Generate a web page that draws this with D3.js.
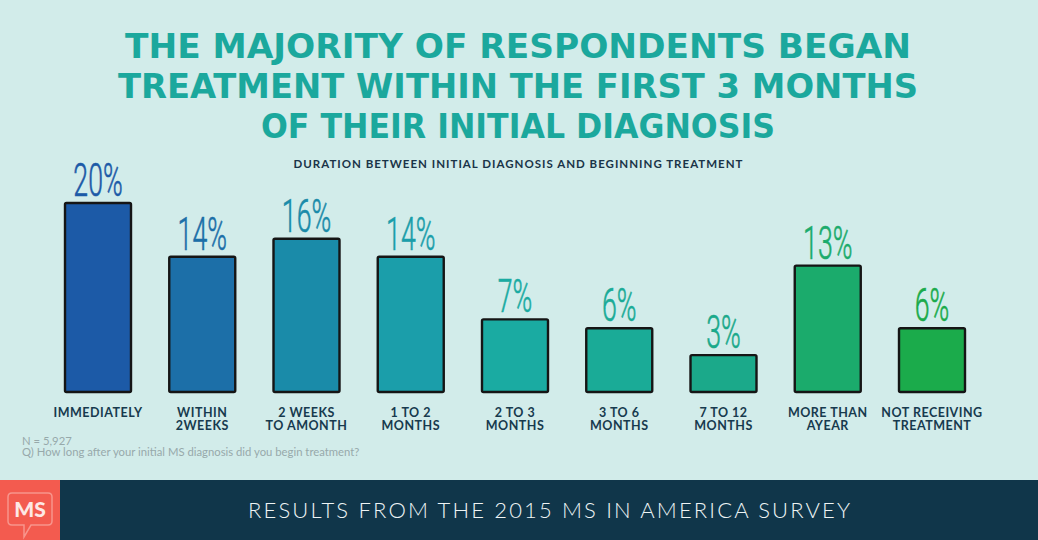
<!DOCTYPE html>
<html>
<head>
<meta charset="utf-8">
<script src="https://cdn.jsdelivr.net/npm/d3@7"></script>
<style>
  html, body { margin: 0; padding: 0; background: #d2ecea; }
  svg { display: block; }
</style>
</head>
<body>
<div id="chart"></div>
<script>
/* MS in America 2015 — time to treatment bar chart */
const titleLines = [
  "THE MAJORITY OF RESPONDENTS BEGAN",
  "TREATMENT WITHIN THE FIRST 3 MONTHS",
  "OF THEIR INITIAL DIAGNOSIS"
];
const subtitle = "DURATION BETWEEN INITIAL DIAGNOSIS AND BEGINNING TREATMENT";
const categories = ["immediately", "within2w", "2wTo1m", "1to2m", "2to3m", "3to6m", "7to12m", "overYear", "none"];
const catLabels = [
  ["IMMEDIATELY"],
  ["WITHIN", "2WEEKS"],
  ["2 WEEKS", "TO AMONTH"],
  ["1 TO 2", "MONTHS"],
  ["2 TO 3", "MONTHS"],
  ["3 TO 6", "MONTHS"],
  ["7 TO 12", "MONTHS"],
  ["MORE THAN", "AYEAR"],
  ["NOT RECEIVING", "TREATMENT"]
];
const values = [20, 14, 16, 14, 7, 6, 3, 13, 6];
const barColors = ["#1c5aa7", "#1c6fa8", "#1a8ba9", "#1b9eaa", "#1aaba2", "#1aab97", "#1ba98a", "#1bab6c", "#1bab4b"];
const footnotes = ["N = 5,927", "Q) How long after your initial MS diagnosis did you begin treatment?"];
const footerText = "RESULTS FROM THE 2015 MS IN AMERICA SURVEY";

const W = 1038, H = 540;
const svg = d3.select('#chart').append('svg').attr('width', W).attr('height', H);
svg.append('rect').attr('width', W).attr('height', H).attr('fill', '#d2ecea');

// title, squeezed to the widths of the hand lettering
const titleWidths = [786, 800, 514];
svg.append('g').selectAll('text').data(titleLines).join('text')
  .attr('x', 518).attr('y', (d, i) => 58 + i * 40)
  .attr('text-anchor', 'middle')
  .attr('font-family', '"Liberation Sans Narrow","DejaVu Sans Condensed",sans-serif')
  .attr('font-weight', 'bold').attr('font-size', 34)
  .attr('fill', '#1ba89d')
  .attr('textLength', (d, i) => titleWidths[i]).attr('lengthAdjust', 'spacingAndGlyphs')
  .text(d => d);

svg.append('text')
  .attr('x', 518).attr('y', 168).attr('text-anchor', 'middle')
  .attr('font-family', 'Lato, "Open Sans", sans-serif').attr('font-weight', 'bold')
  .attr('font-size', 11.5).attr('fill', '#1a3448')
  .attr('textLength', 449).attr('lengthAdjust', 'spacing')
  .text(subtitle);

// scales
const x = d3.scalePoint().domain(categories).range([98, 932]);
const y = d3.scaleLinear().domain([0, 20]).range([382, 203]);
const base = 392, barW = 66;

const bars = svg.append('g').selectAll('g').data(values).join('g');

bars.append('rect')
  .attr('x', (d, i) => x(categories[i]) - barW / 2)
  .attr('y', d => y(d))
  .attr('width', barW)
  .attr('height', d => base - y(d))
  .attr('rx', 1.5)
  .attr('fill', (d, i) => barColors[i])
  .attr('stroke', '#151515').attr('stroke-width', 2.4).attr('stroke-linejoin', 'round');

// value labels: thin, tall and narrow
bars.append('g')
  .attr('transform', (d, i) => `translate(${x(categories[i])},${y(d) - 7}) scale(0.58,1)`)
  .append('text')
  .attr('text-anchor', 'middle')
  .attr('font-family', 'Roboto, "Open Sans", sans-serif').attr('font-weight', 300)
  .attr('font-size', 46)
  .attr('fill', (d, i) => barColors[i])
  .attr('stroke', (d, i) => barColors[i]).attr('stroke-width', 0.6)
  .text(d => d + '%');

// category labels
const lab = svg.append('g').selectAll('text').data(catLabels).join('text')
  .attr('text-anchor', 'middle')
  .attr('font-family', 'Lato, "Open Sans", sans-serif').attr('font-weight', 'bold')
  .attr('font-size', 12.5).attr('letter-spacing', 0.5).attr('fill', '#173a4e');
lab.selectAll('tspan').data((d, i) => d.map(t => ({ t, c: categories[i] }))).join('tspan')
  .attr('x', d => x(d.c)).attr('y', (d, j) => 417 + j * 13)
  .text(d => d.t);

// footnotes
svg.append('g').selectAll('text').data(footnotes).join('text')
  .attr('x', 22).attr('y', (d, i) => 445 + i * 11)
  .attr('font-family', 'Lato, "Open Sans", sans-serif').attr('font-size', 11.3)
  .attr('fill', '#97a9aa')
  .text(d => d);

// footer band + logo
svg.append('rect').attr('x', 0).attr('y', 480).attr('width', W).attr('height', 60).attr('fill', '#10364a');
svg.append('rect').attr('x', 0).attr('y', 480).attr('width', 60).attr('height', 60).attr('fill', '#f35b4f');

const p = d3.path(), r = 4, bx0 = 8, by0 = 493, bx1 = 52, by1 = 525;
p.moveTo(bx0 + r, by0);
p.lineTo(bx1 - r, by0); p.quadraticCurveTo(bx1, by0, bx1, by0 + r);
p.lineTo(bx1, by1 - r); p.quadraticCurveTo(bx1, by1, bx1 - r, by1);
p.lineTo(31, by1); p.lineTo(24, 537); p.lineTo(24, by1);
p.lineTo(bx0 + r, by1); p.quadraticCurveTo(bx0, by1, bx0, by1 - r);
p.lineTo(bx0, by0 + r); p.quadraticCurveTo(bx0, by0, bx0 + r, by0);
p.closePath();
svg.append('path').attr('d', p.toString())
  .attr('fill', 'none').attr('stroke', '#f8958c').attr('stroke-width', 1.5);
svg.append('text')
  .attr('x', 30).attr('y', 516.5).attr('text-anchor', 'middle')
  .attr('font-family', 'Lato, "Open Sans", sans-serif').attr('font-weight', 900)
  .attr('font-size', 21).attr('fill', '#fde8e5')
  .text('MS');

svg.append('text')
  .attr('x', 549).attr('y', 518).attr('text-anchor', 'middle')
  .attr('font-family', 'Lato, "Open Sans", sans-serif').attr('font-weight', 300)
  .attr('font-size', 22).attr('fill', '#eef4f5')
  .attr('textLength', 602).attr('lengthAdjust', 'spacing')
  .text(footerText);
</script>
</body>
</html>
